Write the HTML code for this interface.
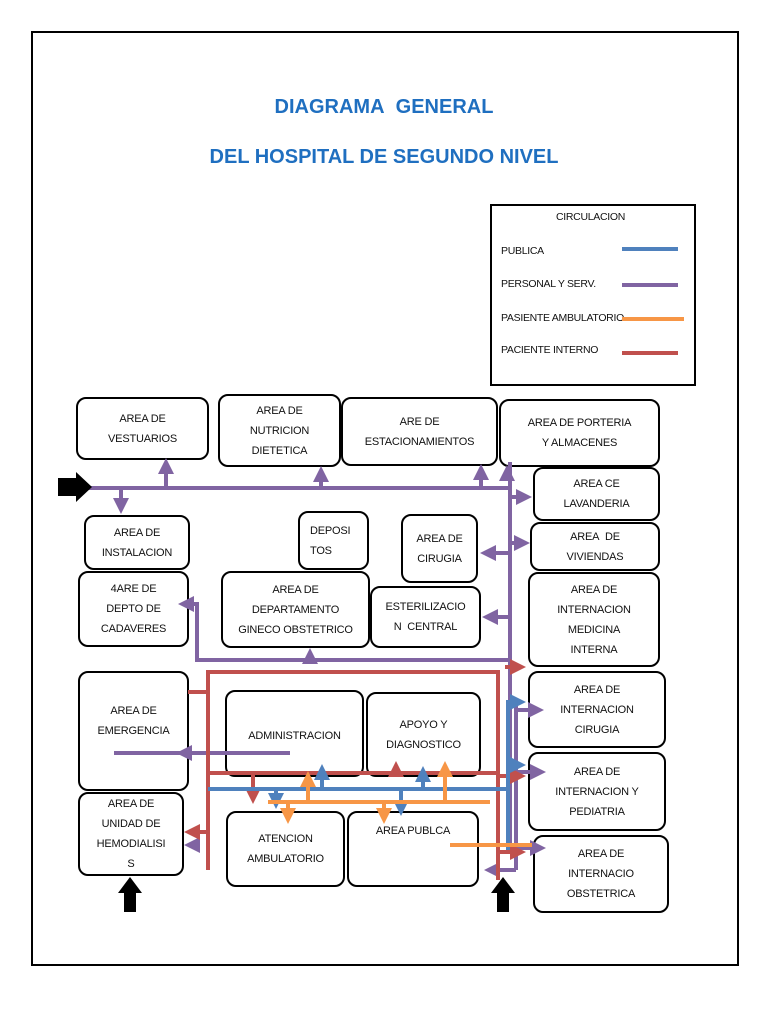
<!DOCTYPE html>
<html><head><meta charset="utf-8"><style>
body{margin:0;background:#fff;width:768px;height:1024px;position:relative;font-family:"Liberation Sans",sans-serif;overflow:hidden}
.frame{position:absolute;left:31px;top:31px;width:704px;height:931px;border:2px solid #000}
.t{position:absolute;left:0;width:768px;text-align:center;color:#1f6fc0;font-weight:bold;font-size:20px}
.b{position:absolute;border:2px solid #000;border-radius:10px;box-sizing:border-box;display:flex;align-items:center;justify-content:center;text-align:center;font-size:11px;line-height:20px;color:#111;background:#fff;letter-spacing:-0.2px}
.lg{position:absolute;font-size:10.5px;color:#111;letter-spacing:-0.3px}
svg{position:absolute;left:0;top:0;z-index:5}
</style></head><body>
<div class="frame"></div>
<div class="t" style="top:96px">DIAGRAMA&nbsp; GENERAL</div>
<div class="t" style="top:146px">DEL HOSPITAL DE SEGUNDO NIVEL</div>
<div style="position:absolute;left:490px;top:204px;width:206px;height:182px;border:2px solid #000;box-sizing:border-box"></div>
<div class="lg" style="left:556px;top:211px">CIRCULACION</div>
<div class="lg" style="left:501px;top:245px">PUBLICA</div>
<div class="lg" style="left:501px;top:278px">PERSONAL Y SERV.</div>
<div class="lg" style="left:501px;top:312px">PASIENTE AMBULATORIO</div>
<div class="lg" style="left:501px;top:344px">PACIENTE INTERNO</div>

<div class="b" style="left:76px;top:397px;width:133px;height:63px">AREA DE<br>VESTUARIOS</div>
<div class="b" style="left:218px;top:394px;width:123px;height:73px">AREA DE<br>NUTRICION<br>DIETETICA</div>
<div class="b" style="left:341px;top:397px;width:157px;height:69px">ARE DE<br>ESTACIONAMIENTOS</div>
<div class="b" style="left:499px;top:399px;width:161px;height:68px">AREA DE PORTERIA<br>Y ALMACENES</div>
<div class="b" style="left:533px;top:467px;width:127px;height:54px">AREA CE<br>LAVANDERIA</div>
<div class="b" style="left:530px;top:522px;width:130px;height:49px">AREA&nbsp; DE<br>VIVIENDAS</div>
<div class="b" style="left:528px;top:572px;width:132px;height:95px">AREA DE<br>INTERNACION<br>MEDICINA<br>INTERNA</div>
<div class="b" style="left:84px;top:515px;width:106px;height:55px">AREA DE<br>INSTALACION</div>
<div class="b" style="left:298px;top:511px;width:71px;height:59px;justify-content:flex-start;padding-left:10px;text-align:left">DEPOSI<br>TOS</div>
<div class="b" style="left:401px;top:514px;width:77px;height:69px">AREA DE<br>CIRUGIA</div>
<div class="b" style="left:78px;top:571px;width:111px;height:76px">4ARE DE<br>DEPTO DE<br>CADAVERES</div>
<div class="b" style="left:221px;top:571px;width:149px;height:77px">AREA DE<br>DEPARTAMENTO<br>GINECO OBSTETRICO</div>
<div class="b" style="left:370px;top:586px;width:111px;height:62px">ESTERILIZACIO<br>N&nbsp; CENTRAL</div>
<div class="b" style="left:78px;top:671px;width:111px;height:120px;padding-bottom:20px">AREA DE<br>EMERGENCIA</div>
<div class="b" style="left:225px;top:690px;width:139px;height:87px;align-items:flex-start;padding-top:34px">ADMINISTRACION</div>
<div class="b" style="left:366px;top:692px;width:115px;height:85px">APOYO Y<br>DIAGNOSTICO</div>
<div class="b" style="left:78px;top:792px;width:106px;height:84px">AREA DE<br>UNIDAD DE<br>HEMODIALISI<br>S</div>
<div class="b" style="left:226px;top:811px;width:119px;height:76px">ATENCION<br>AMBULATORIO</div>
<div class="b" style="left:347px;top:811px;width:132px;height:76px;align-items:flex-start;padding-top:8px">AREA PUBLCA</div>
<div class="b" style="left:528px;top:671px;width:138px;height:77px">AREA DE<br>INTERNACION<br>CIRUGIA</div>
<div class="b" style="left:528px;top:752px;width:138px;height:79px">AREA DE<br>INTERNACION Y<br>PEDIATRIA</div>
<div class="b" style="left:533px;top:835px;width:136px;height:78px">AREA DE<br>INTERNACIO<br>OBSTETRICA</div>

<svg width="768" height="1024">
<defs>
<marker id="mp" markerWidth="4" markerHeight="4" refX="3" refY="2" orient="auto" markerUnits="strokeWidth"><path d="M0,0L4,2L0,4z" fill="#8064a2"/></marker>
<marker id="mr" markerWidth="4" markerHeight="4" refX="3" refY="2" orient="auto" markerUnits="strokeWidth"><path d="M0,0L4,2L0,4z" fill="#c0504d"/></marker>
<marker id="mb" markerWidth="4" markerHeight="4" refX="3" refY="2" orient="auto" markerUnits="strokeWidth"><path d="M0,0L4,2L0,4z" fill="#4f81bd"/></marker>
<marker id="mo" markerWidth="4" markerHeight="4" refX="3" refY="2" orient="auto" markerUnits="strokeWidth"><path d="M0,0L4,2L0,4z" fill="#f79646"/></marker>
</defs>
<g stroke-width="4" fill="none">
<line x1="622" y1="249" x2="678" y2="249" stroke="#4f81bd"/>
<line x1="622" y1="285" x2="678" y2="285" stroke="#8064a2"/>
<line x1="622" y1="319" x2="684" y2="319" stroke="#f79646"/>
<line x1="622" y1="353" x2="678" y2="353" stroke="#c0504d"/>
</g>
<g stroke="#8064a2" stroke-width="4" fill="none">
<line x1="88" y1="488" x2="510" y2="488"/>
<line x1="510" y1="462" x2="510" y2="850"/>
<line x1="166" y1="488" x2="166" y2="462" marker-end="url(#mp)"/>
<line x1="321" y1="488" x2="321" y2="470" marker-end="url(#mp)"/>
<line x1="481" y1="488" x2="481" y2="468" marker-end="url(#mp)"/>
<line x1="507" y1="480" x2="507" y2="469" marker-end="url(#mp)"/>
<line x1="121" y1="488" x2="121" y2="510" marker-end="url(#mp)"/>
<line x1="510" y1="497" x2="528" y2="497" marker-end="url(#mp)"/>
<line x1="510" y1="543" x2="526" y2="543" marker-end="url(#mp)"/>
<line x1="510" y1="553" x2="484" y2="553" marker-end="url(#mp)"/>
<line x1="510" y1="617" x2="486" y2="617" marker-end="url(#mp)"/>
<polyline points="510,660 197,660 197,604 182,604" marker-end="url(#mp)"/>
<line x1="310" y1="660" x2="310" y2="652" marker-end="url(#mp)"/>
<line x1="290" y1="753" x2="114" y2="753"/>
<line x1="200" y1="753" x2="180" y2="753" marker-end="url(#mp)"/>
<line x1="200" y1="845" x2="188" y2="845" marker-end="url(#mp)"/>
<line x1="516" y1="700" x2="516" y2="870"/>
<line x1="516" y1="710" x2="540" y2="710" marker-end="url(#mp)"/>
<line x1="516" y1="772" x2="542" y2="772" marker-end="url(#mp)"/>
<line x1="516" y1="848" x2="542" y2="848" marker-end="url(#mp)"/>
<line x1="516" y1="870" x2="488" y2="870" marker-end="url(#mp)"/>
</g>
<g stroke="#c0504d" stroke-width="4" fill="none">
<line x1="505" y1="667" x2="522" y2="667" marker-end="url(#mr)"/>
<polyline points="208,870 208,672 498,672 498,880"/>
<line x1="188" y1="692" x2="208" y2="692"/>
<line x1="208" y1="773" x2="498" y2="773"/>
<line x1="208" y1="832" x2="188" y2="832" marker-end="url(#mr)"/>
<line x1="253" y1="773" x2="253" y2="800" marker-end="url(#mr)"/>
<line x1="396" y1="773" x2="396" y2="765" marker-end="url(#mr)"/>
<line x1="498" y1="776" x2="522" y2="776" marker-end="url(#mr)"/>
<line x1="498" y1="852" x2="522" y2="852" marker-end="url(#mr)"/>
</g>
<g stroke="#4f81bd" stroke-width="4" fill="none">
<line x1="208" y1="789" x2="510" y2="789"/>
<line x1="508" y1="700" x2="508" y2="850"/>
<line x1="508" y1="702" x2="522" y2="702" marker-end="url(#mb)"/>
<line x1="508" y1="765" x2="522" y2="765" marker-end="url(#mb)"/>
<line x1="276" y1="789" x2="276" y2="805" marker-end="url(#mb)"/>
<line x1="322" y1="789" x2="322" y2="768" marker-end="url(#mb)"/>
<line x1="423" y1="789" x2="423" y2="770" marker-end="url(#mb)"/>
<line x1="401" y1="789" x2="401" y2="812" marker-end="url(#mb)"/>
</g>
<g stroke="#f79646" stroke-width="4" fill="none">
<line x1="268" y1="802" x2="490" y2="802"/>
<line x1="288" y1="802" x2="288" y2="820" marker-end="url(#mo)"/>
<line x1="308" y1="802" x2="308" y2="775" marker-end="url(#mo)"/>
<line x1="445" y1="802" x2="445" y2="765" marker-end="url(#mo)"/>
<line x1="384" y1="802" x2="384" y2="820" marker-end="url(#mo)"/>
<line x1="450" y1="845" x2="532" y2="845"/>
</g>
<path d="M58,478 L76,478 L76,472 L92,487 L76,502 L76,496 L58,496 Z" fill="#000"/>
<path d="M124,912 L124,893 L118,893 L130,877 L142,893 L136,893 L136,912 Z" fill="#000"/>
<path d="M497,912 L497,893 L491,893 L503,877 L515,893 L509,893 L509,912 Z" fill="#000"/>
</svg>
</body></html>
